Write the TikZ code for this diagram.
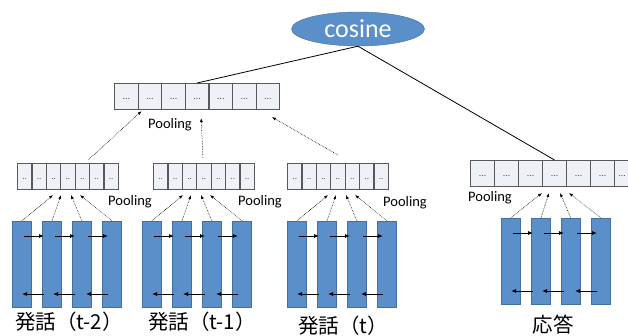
\documentclass[tikz,border=0pt]{standalone}
\usepackage{fontspec}
\setmainfont{Carlito}
\newfontfamily\jpfont{Noto Sans CJK JP}
\usetikzlibrary{shapes.geometric, arrows.meta, positioning, calc}

\definecolor{barblue}{HTML}{5B8FC9}
\definecolor{baredge}{HTML}{41719C}
\definecolor{cellfill}{HTML}{EEF1F6}
\definecolor{celledge}{HTML}{595959}

\tikzset{
    bar/.style={draw=baredge, fill=barblue, line width=0.8pt, minimum width=19pt,
        minimum height=86pt, inner sep=0pt, anchor=north west},
    cell/.style={draw=celledge, fill=cellfill, line width=1.1pt, minimum height=26pt,
        inner sep=0pt, anchor=north west, text=celledge, text height=1.2ex, text depth=0pt},
    rnn/.style={-{Latex[length=5pt,width=4pt]}, line width=0.8pt},
    pool/.style={-{Latex[length=4pt,width=3pt]}, densely dotted, line width=0.6pt},
    lbl/.style={font=\fontsize{14.5}{16}\selectfont},
    utt/.style={font=\jpfont\fontsize{20.5}{22}\selectfont}
}

\begin{document}
\begin{tikzpicture}[x=1pt, y=-1pt]
    \clip (0,0) rectangle (628,336);

    % cosine on top
    \node[ellipse, draw=baredge, fill=barblue, minimum width=133pt, minimum height=34pt,
        inner sep=0pt, text=white, font=\fontsize{26}{26}\selectfont] (cos) at (358,29) {cosine};

    % context vector
    \foreach \i in {1,...,7} {
        \node[cell, minimum width=23.6pt, font=\fontsize{10}{10}\selectfont] (t\i) at ({114+23.6*(\i-1)},83) {...};
    }
    \node[lbl] (pl0) at (170,125) {Pooling};

    % utterances t-2, t-1, t
    \foreach \g/\bx/\cx/\px/\py/\ux/\uy/\txt in {1/12/17/130/202/69/322/{（t-2）},
            2/142/153/260/202/202/322/{（t-1）}, 3/287/287/405/203/343/326/{（t）}} {
        % bidirectional layer
        \foreach \i in {1,...,4} {
            \node[bar] (b\g\i) at ({\bx+30*(\i-1)},221) {};
        }
        \foreach \i/\j/\d in {1/2/0, 2/3/1, 3/4/4} {
            \draw[rnn] ($(b\g\i.north west)+(12+\d,15)$) -- ($(b\g\j.north west)+(2+\d,15)$);
            \draw[rnn] ($(b\g\j.north west)+(2+\d,73)$) -- ($(b\g\i.north west)+(10+\d,73)$);
        }
        % pooled vector
        \foreach \i in {1,...,7} {
            \node[cell, minimum width=14.4pt, font=\fontsize{9}{9}\selectfont] (c\g\i) at ({\cx+14.4*(\i-1)},163) {..};
        }
        \coordinate (p\g) at ({\bx+54.5},195);
        \foreach \i/\o in {1/-13.5, 2/-5.5, 3/4.5, 4/13.5} {
            \draw[pool] (b\g\i.north) -- ($(p\g)+(\o,0)$);
        }
        \node[lbl] (pl\g) at (\px,\py) {Pooling};
        \node[utt] (u\g) at (\ux,\uy) {発話\txt};
    }

    % response
    \foreach \i in {1,...,4} {
        \node[bar] (b4\i) at ({501+30*(\i-1)},218) {};
    }
    \foreach \i/\j/\d in {1/2/0, 2/3/1, 3/4/4} {
        \draw[rnn] ($(b4\i.north west)+(12+\d,15)$) -- ($(b4\j.north west)+(2+\d,15)$);
        \draw[rnn] ($(b4\j.north west)+(2+\d,73)$) -- ($(b4\i.north west)+(10+\d,73)$);
    }
    \foreach \i in {1,...,6} {
        \node[cell, minimum width=24pt, font=\fontsize{10}{10}\selectfont] (r\i) at ({470+24*(\i-1)},160) {...};
    }
    % last cell runs into the page edge
    \node[cell, minimum width=15pt, font=\fontsize{10}{10}\selectfont] (r7) at (614,160) {...};
    \coordinate (p4) at (555.5,193);
    \foreach \i/\o in {1/-13.5, 2/-6.5, 3/4.5, 4/13.5} {
        \draw[pool] (b4\i.north) -- ($(p4)+(\o,0)$);
    }
    \node[lbl] (pl4) at (490,198) {Pooling};
    \node[utt] (u4) at (553,325) {応答};

    % pooling over the utterances
    \draw[pool] ($(c15.north east)+(-2,-3)$) -- ($(t2.south west)+(4,1)$);
    \draw[pool] ($(c24.north)+(-1,-5)$) -- ($(t4.south)+(4,8)$);
    \draw[pool] ($(c34.north)+(0,-8)$) -- ($(t7.south)+(4,7)$);

    % similarity
    \draw[line width=0.8pt] (cos.south) -- (t4.north);
    \draw[line width=0.8pt] (cos.south) -- (r4.north);
\end{tikzpicture}
\end{document}
